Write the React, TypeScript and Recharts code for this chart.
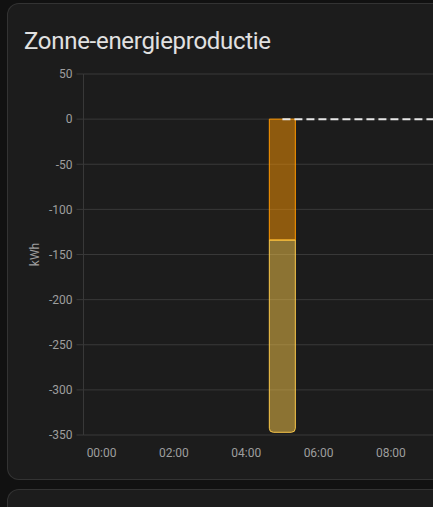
import React from 'react';
import { ComposedChart, Bar, Line, XAxis, YAxis, CartesianGrid, Label } from 'recharts';

const hours = [0, 1, 2, 3, 4, 5, 6, 7, 8, 9, 10, 11, 12, 13, 14, 15, 16, 17, 18, 19, 20, 21, 22, 23];
const solarOrange = [null, null, null, null, null, -134, null, null, null, null, null, null, null, null, null, null, null, null, null, null, null, null, null, null];
const solarYellow = [null, null, null, null, null, -213, null, null, null, null, null, null, null, null, null, null, null, null, null, null, null, null, null, null];
const compareLine = [null, null, null, null, null, 0, 0, 0, 0, 0, 0, 0, 0, 0, 0, 0, 0, 0, 0, 0, 0, 0, 0, 0];
const labelHours = [0, 2, 4, 6, 8];
const hourLabels = ['00:00', '02:00', '04:00', '06:00', '08:00'];
const gridHours = [1, 3, 5, 7, 9, 11, 13, 15, 17, 19, 21, 23];
const yTicks = [50, 0, -50, -100, -150, -200, -250, -300, -350];

const data = hours.map((h, i) => ({
  hour: h,
  orange: solarOrange[i],
  yellow: solarYellow[i],
  compare: compareLine[i],
}));

const GRID = '#383838';
const TICK = '#9e9e9e';

const cardStyle: React.CSSProperties = {
  position: 'absolute',
  left: 7,
  width: 470,
  background: '#1c1c1c',
  border: '1px solid rgba(225,225,225,0.12)',
  borderRadius: 12,
  boxSizing: 'border-box',
};

export default function App() {
  return (
    <div
      style={{
        position: 'fixed',
        left: 0,
        top: 0,
        width: 433,
        height: 507,
        overflow: 'hidden',
        background: '#111111',
        fontFamily: 'Roboto, sans-serif',
      }}
    >
      <div style={{ ...cardStyle, top: 3, height: 477 }} />
      <div style={{ ...cardStyle, top: 489, height: 200 }} />
      <div
        style={{
          position: 'absolute',
          left: 24,
          top: 25,
          fontSize: 24,
          lineHeight: '32px',
          color: '#e1e1e1',
          whiteSpace: 'nowrap',
          letterSpacing: '-0.012em',
        }}
      >
        Zonne-energieproductie
      </div>
      <div style={{ position: 'absolute', left: 0, top: 0 }}>
        <ComposedChart
          width={1000}
          height={480}
          data={data}
          margin={{ top: 74, right: 48.5, bottom: 0, left: 0 }}
        >
          <XAxis
            xAxisId="grid"
            dataKey="hour"
            type="number"
            domain={[-0.5, 23.5]}
            allowDataOverflow
            ticks={gridHours}
            tick={false}
            tickLine={{ stroke: GRID }}
            tickSize={8}
            axisLine={false}
            height={0}
          />
          <XAxis
            xAxisId="main"
            dataKey="hour"
            type="number"
            domain={[-0.5, 23.5]}
            allowDataOverflow
            ticks={labelHours}
            interval={0}
            tickFormatter={(v: number) => hourLabels[labelHours.indexOf(v)]}
            tick={{ fill: TICK, fontSize: 12 }}
            tickLine={false}
            tickSize={0}
            tickMargin={13}
            axisLine={false}
            height={45}
          />
          <YAxis
            type="number"
            domain={[-350, 50]}
            ticks={yTicks}
            interval={0}
            width={83.5}
            tickSize={7}
            tickMargin={4}
            tick={{ fill: TICK, fontSize: 12 }}
            tickLine={{ stroke: GRID }}
            axisLine={{ stroke: GRID }}
          >
            <Label
              content={({ viewBox }: any) => {
                const cx = viewBox.x + 34.5;
                const cy = viewBox.y + viewBox.height / 2;
                return (
                  <text
                    x={cx}
                    y={cy}
                    transform={`rotate(-90 ${cx} ${cy})`}
                    textAnchor="middle"
                    dominantBaseline="central"
                    fill={TICK}
                    fontSize={12}
                  >
                    kWh
                  </text>
                );
              }}
            />
          </YAxis>
          <CartesianGrid xAxisId="grid" stroke={GRID} />
          <Bar
            xAxisId="main"
            dataKey="orange"
            stackId="solar"
            barSize={26}
            fill="#ff9800"
            fillOpacity={0.5}
            stroke="#ff9800"
            strokeWidth={1}
            isAnimationActive={false}
          />
          <Bar
            xAxisId="main"
            dataKey="yellow"
            stackId="solar"
            barSize={26}
            fill="#fbc94a"
            fillOpacity={0.5}
            stroke="#fbc94a"
            strokeWidth={1}
            radius={[4, 4, 0, 0]}
            isAnimationActive={false}
          />
          <Line
            xAxisId="main"
            dataKey="compare"
            type="linear"
            stroke="#e6e6e6"
            strokeWidth={2}
            strokeDasharray="8 4"
            dot={false}
            activeDot={false}
            isAnimationActive={false}
          />
        </ComposedChart>
      </div>
    </div>
  );
}
